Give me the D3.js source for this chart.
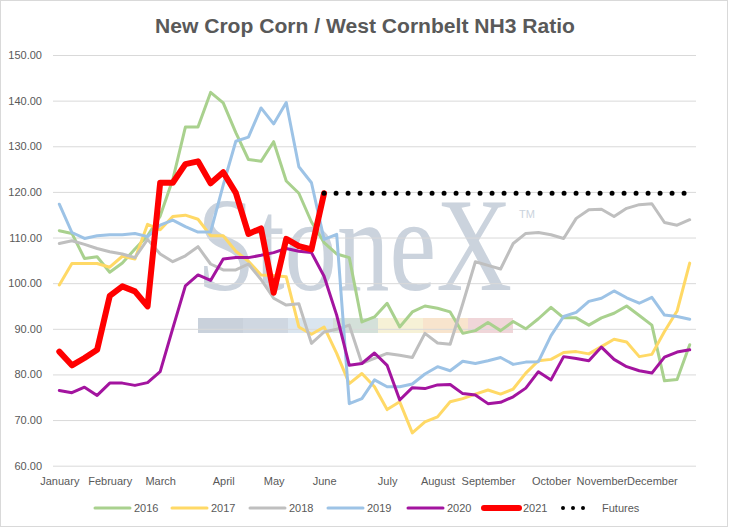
<!DOCTYPE html>
<html>
<head>
<meta charset="utf-8">
<script src="https://cdn.jsdelivr.net/npm/d3@7"></script>
<style>
  body { margin: 0; background: #fff; }
  svg text { font-family: "Liberation Sans", Arial, sans-serif; }
</style>
</head>
<body>
<svg id="chart"></svg>
<script>
// week categories, a month name on the first week of each month
const monthLabels = {0: "January", 4: "February", 8: "March", 13: "April", 17: "May", 21: "June",
  26: "July", 30: "August", 34: "September", 39: "October", 43: "November", 47: "December"};
const weeks = d3.range(51).map(i => monthLabels[i] || "");

const yTicks = [60, 70, 80, 90, 100, 110, 120, 130, 140, 150];

const s2016 = [111.5, 110.9, 105.4, 105.8, 102.4, 104.4, 107.5, 110.4, 114.7, 122.7, 134.2, 134.2, 141.8, 139.5, 133.0, 127.1, 126.7, 131.0, 122.4, 119.7,
  113.4, 108.9, 106.4, 105.6, 91.5, 92.6, 95.6, 90.4, 93.7, 95.0, 94.5, 93.7, 89.0, 89.6, 91.4, 89.6, 91.6, 90.0, 92.2, 94.7,
  92.4, 92.4, 90.8, 92.4, 93.4, 95.0, 92.9, 90.8, 78.6, 78.9, 86.5];
const s2017 = [99.6, 104.3, 104.3, 104.3, 103.5, 105.9, 105.3, 112.9, 111.7, 114.6, 114.9, 114.0, 110.4, 110.4, 107.0, 104.8, 101.8, 101.7, 101.4, 90.4,
  88.8, 90.4, 84.6, 78.0, 80.2, 77.3, 72.3, 74.0, 67.2, 69.6, 70.7, 74.0, 74.7, 75.7, 76.6, 75.7, 76.8, 80.3, 83.0, 83.3,
  84.8, 85.0, 84.5, 86.1, 87.7, 87.1, 83.9, 84.4, 89.4, 93.9, 104.4];
const s2018 = [108.7, 109.3, 108.5, 107.6, 106.9, 106.4, 105.6, 109.6, 106.4, 104.7, 106.0, 108.0, 104.2, 102.9, 102.9, 104.2, 100.8, 96.7, 95.2, 95.5,
  86.8, 89.3, 89.9, 90.8, 82.4, 83.5, 84.6, 84.2, 83.7, 89.0, 86.9, 86.6, 95.5, 104.7, 103.9, 103.1, 108.7, 110.9, 111.1, 110.6,
  109.8, 114.2, 116.1, 116.2, 114.6, 116.4, 117.2, 117.4, 113.3, 112.7, 113.9];
const s2019 = [117.3, 111.1, 109.8, 110.4, 110.6, 110.6, 110.9, 110.2, 112.7, 113.8, 112.4, 111.2, 111.2, 121.5, 131.1, 132.0, 138.4, 134.9, 139.6, 125.5,
  122.0, 109.6, 110.7, 73.6, 74.7, 78.8, 77.3, 77.3, 77.9, 80.1, 81.7, 80.8, 82.9, 82.4, 83.0, 83.7, 82.2, 82.7, 82.8, 88.5,
  92.7, 93.6, 96.0, 96.7, 98.3, 96.8, 95.6, 96.9, 93.0, 92.7, 92.1];
const s2020 = [76.5, 76.0, 77.2, 75.4, 78.1, 78.1, 77.6, 78.2, 80.6, 90.1, 99.4, 101.8, 100.6, 105.3, 105.6, 105.6, 106.1, 106.7, 107.6, 107.0,
  106.7, 101.5, 93.0, 82.0, 82.4, 84.7, 82.0, 74.4, 77.1, 76.9, 77.7, 77.8, 75.8, 75.5, 73.6, 73.9, 75.1, 77.0, 80.6, 78.8,
  83.9, 83.5, 83.0, 86.0, 83.3, 81.7, 80.8, 80.3, 83.8, 84.9, 85.4];
const s2021 = [85.0, 82.0, 83.6, 85.4, 97.2, 99.3, 98.2, 94.9, 122.0, 122.0, 126.1, 126.7, 121.9, 124.3, 119.8, 110.8, 112.0, 97.9, 109.7, 108.1,
  107.4, 119.7];
const futuresValue = 119.7;
const futuresStart = 21;

const series = [
  {name: "2016", values: s2016, color: "#a9d18e", width: 3},
  {name: "2017", values: s2017, color: "#ffd966", width: 3},
  {name: "2018", values: s2018, color: "#bfbfbf", width: 3},
  {name: "2019", values: s2019, color: "#9dc3e6", width: 3},
  {name: "2020", values: s2020, color: "#a3149f", width: 3},
  {name: "2021", values: s2021, color: "#ff0000", width: 6},
  {name: "Futures", values: weeks.map((_, i) => i >= futuresStart ? futuresValue : null), color: "#000", width: 5, dots: true}
];

const W = 729, H = 528;
const margin = {top: 55, right: 33, bottom: 62, left: 53};
const textColor = "#595959";

const svg = d3.select("#chart").attr("width", W).attr("height", H);

svg.append("rect").attr("x", 0.5).attr("y", 0.5).attr("width", W - 2).attr("height", H - 2)
  .attr("fill", "#fff").attr("stroke", "#d9d9d9");

const x = d3.scalePoint().domain(d3.range(weeks.length)).range([margin.left, W - margin.right]).padding(0.5);
const y = d3.scaleLinear().domain([60, 150]).range([H - margin.bottom - 0.3, margin.top]);

// watermark (tall, narrow serif logo)
const wm = svg.append("g");
const barColors = ["#c9d1db", "#cfd7e1", "#dae5ef", "#d4e0d9", "#f6f1d6", "#f8e4cd", "#f0d6d9"];
wm.selectAll("rect").data(barColors).join("rect")
  .attr("x", (d, i) => 198 + i * 45).attr("y", 318).attr("width", 45).attr("height", 15)
  .attr("fill", d => d);
wm.append("text").text("StoneX")
  .attr("transform", "translate(197,290) scale(1,1.27)")
  .style("font-family", "'Liberation Serif', 'Times New Roman', serif")
  .style("font-size", "105px").attr("fill", "#cbd3dd");
wm.append("text").text("TM").attr("x", 519).attr("y", 218)
  .style("font-size", "11px").attr("fill", "#cbd3dd");

// gridlines
svg.append("g")
  .attr("transform", `translate(${margin.left},0)`)
  .call(d3.axisLeft(y).tickValues(yTicks).tickSize(-(W - margin.left - margin.right)).tickFormat(""))
  .call(g => g.select(".domain").remove())
  .call(g => g.selectAll("line").attr("stroke", "#d9d9d9"));

// y labels
svg.append("g")
  .attr("transform", `translate(${margin.left},0)`)
  .call(d3.axisLeft(y).tickValues(yTicks).tickSize(0).tickPadding(11).tickFormat(d3.format(".2f")))
  .call(g => g.select(".domain").remove())
  .call(g => g.selectAll("text").attr("fill", textColor)
    .style("font-size", "11px").style("font-family", "'Liberation Sans', Arial, sans-serif"));

// x labels
svg.append("g")
  .attr("transform", `translate(0,${y(60)})`)
  .call(d3.axisBottom(x).tickValues(d3.range(weeks.length).filter(i => weeks[i])).tickSize(0).tickPadding(12)
    .tickFormat(i => weeks[i]))
  .call(g => g.select(".domain").remove())
  .call(g => g.selectAll("text").attr("fill", textColor)
    .style("font-size", "11px").style("font-family", "'Liberation Sans', Arial, sans-serif"));

// series
const line = d3.line().defined(d => d != null).x((d, i) => x(i)).y(d => y(d));
svg.append("g").selectAll("path").data(series).join("path")
  .attr("d", d => line(d.values))
  .attr("fill", "none")
  .attr("stroke", d => d.color)
  .attr("stroke-width", d => d.width)
  .attr("stroke-linejoin", "round")
  .attr("stroke-linecap", "round")
  .attr("stroke-dasharray", d => d.dots ? "0 12" : null);

// title
svg.append("text").text("New Crop Corn / West Cornbelt NH3 Ratio")
  .attr("x", 365).attr("y", 33).attr("text-anchor", "middle")
  .attr("textLength", 420).attr("lengthAdjust", "spacingAndGlyphs")
  .attr("fill", textColor).style("font-size", "20px").style("font-weight", "bold");

// legend
const legendPos = [95, 172, 250, 328, 408, 484, 563];
const legend = svg.append("g").selectAll("g").data(series).join("g")
  .attr("transform", (d, i) => `translate(${legendPos[i]},508)`);
legend.append("line")
  .attr("x1", 0).attr("x2", d => d.dots ? 30 : 35).attr("y1", 0).attr("y2", 0)
  .attr("stroke", d => d.color)
  .attr("stroke-width", d => d.dots ? 4 : d.width)
  .attr("stroke-linecap", "round")
  .attr("stroke-dasharray", d => d.dots ? "0 10" : null);
legend.append("text").text(d => d.name)
  .attr("x", 39).attr("y", 4)
  .attr("fill", textColor).style("font-size", "11px");
</script>
</body>
</html>
